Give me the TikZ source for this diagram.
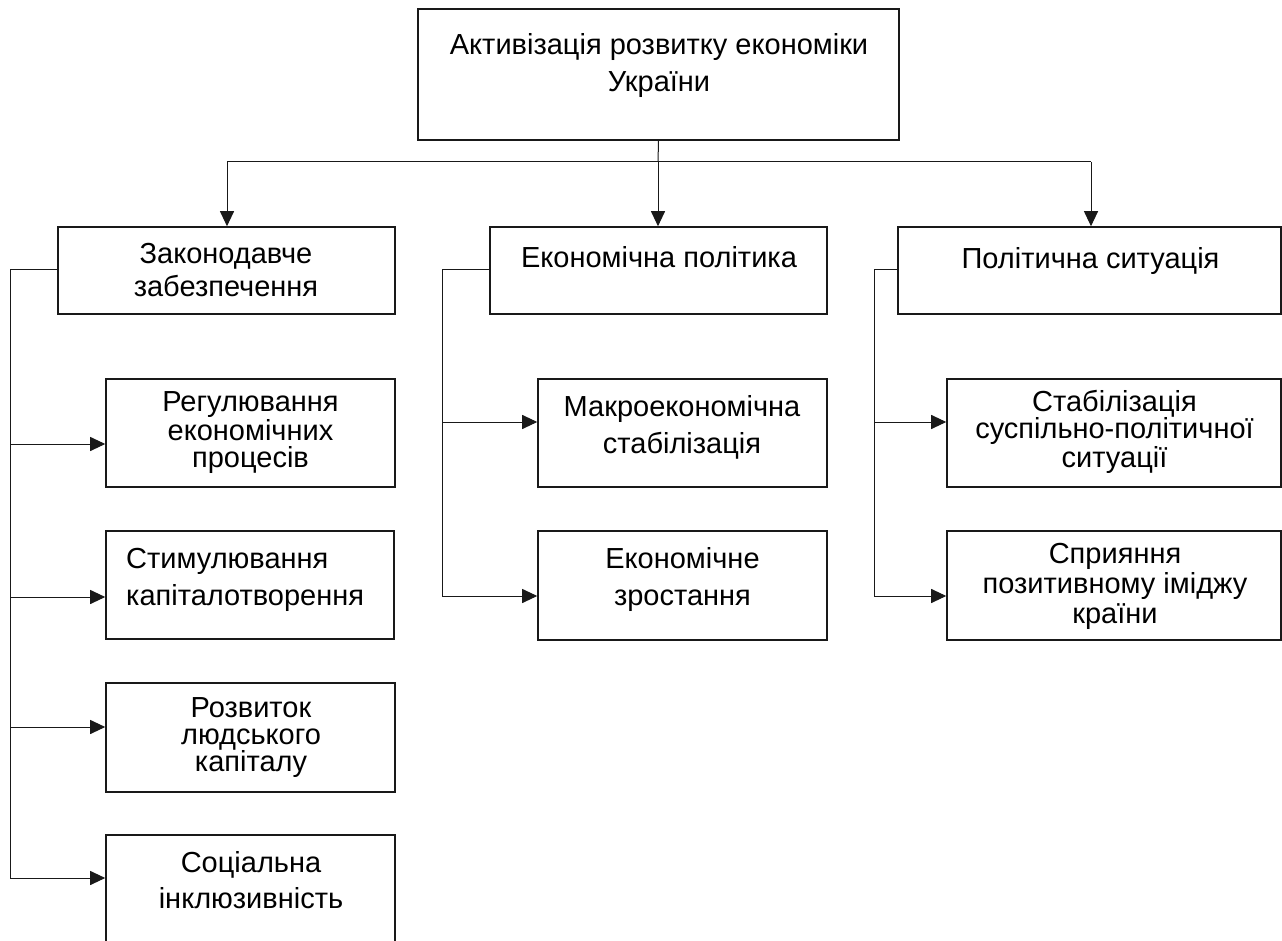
\documentclass[tikz,border=0pt]{standalone}
\usepackage{fontspec}
\setmainfont{Liberation Sans}
\usetikzlibrary{arrows.meta,calc}
\tikzset{
  box/.style={draw=black!90, line width=1.6pt, inner sep=0pt, rectangle},
  lbl/.style={anchor=base, align=center, inner sep=0pt, font=\fontsize{29}{#1}\selectfont},
  conn/.style={draw=black!90, line width=1pt},
  arr/.style={conn, -{Triangle[length=15pt,width=14pt]}}
}
\begin{document}
\begin{tikzpicture}[x=1pt,y=-1pt]
\useasboundingbox[fill=white] (0,0) rectangle (1282,941);
\clip (0,0) rectangle (1282,941);
% boxes
\node[box, minimum width=481pt, minimum height=131pt] (T) at (658.5,74.5) {};
\node[box, minimum width=337pt, minimum height=87pt] (Z) at (226.5,270.5) {};
\node[box, minimum width=337pt, minimum height=87pt] (E) at (658.5,270.5) {};
\node[box, minimum width=383pt, minimum height=87pt] (P) at (1089.5,270.5) {};
\node[box, minimum width=289pt, minimum height=108pt] (L1) at (250.5,433) {};
\node[box, minimum width=288pt, minimum height=108pt] (L2) at (250,585) {};
\node[box, minimum width=289pt, minimum height=109pt] (L3) at (250.5,737.5) {};
\node[box, minimum width=289pt, minimum height=115pt] (L4) at (250.5,892.5) {};
\node[box, minimum width=289pt, minimum height=108pt] (M1) at (682.5,433) {};
\node[box, minimum width=289pt, minimum height=109pt] (M2) at (682.5,585.5) {};
\node[box, minimum width=334pt, minimum height=108pt] (R1) at (1114,433) {};
\node[box, minimum width=334pt, minimum height=109pt] (R2) at (1114,585.5) {};
% texts (anchor at baseline of the last line)
\node[lbl=37] (tT) at (659,92) {Активізація розвитку економіки\\України};
\node[lbl=33] (tZ) at (226,297) {Законодавче\\забезпечення};
\node[lbl=30] (tE) at (659,268) {Економічна політика};
\node[lbl=30] (tP) at (1090.5,269) {Політична ситуація};
\node[lbl=27] (tL1) at (250.5,467) {Регулювання\\економічних\\процесів};
\node[lbl=37, align=left, anchor=base west] (tL2) at (126,605) {Стимулювання\\капіталотворення};
\node[lbl=27] (tL3) at (251,771) {Розвиток\\людського\\капіталу};
\node[lbl=36] (tL4) at (251,908) {Соціальна\\інклюзивність};
\node[lbl=37] (tM1) at (682,453) {Макроекономічна\\стабілізація};
\node[lbl=37] (tM2) at (682.5,605) {Економічне\\зростання};
\node[lbl=27] (tR1) at (1114.5,467) {Стабілізація\\суспільно-політичної\\ситуації};
\node[lbl=30] (tR2) at (1115,623) {Сприяння\\позитивному іміджу\\країни};
% top spine
\coordinate (hub) at (658,162);
\coordinate (hl) at (227,162);
\coordinate (hr) at (1091,162);
\draw[conn] (T.south) -- (hub);
\draw[conn] (hl) -- (hr);
\draw[arr] (hl) -- (hl |- Z.north);
\draw[arr] (hub) -- (hub |- E.north);
\draw[arr] (hr) -- (hr |- P.north);
% left bracket
\coordinate (zl) at (10,270);
\coordinate (za1) at (10,444);
\coordinate (za2) at (10,597);
\coordinate (za3) at (10,727);
\coordinate (za4) at (10,878);
\draw[conn] (Z.west |- zl) -- (zl) -- (za4);
\draw[arr] (za1) -- (za1 -| L1.west);
\draw[arr] (za2) -- (za2 -| L2.west);
\draw[arr] (za3) -- (za3 -| L3.west);
\draw[arr] (za4) -- (za4 -| L4.west);
% middle bracket
\coordinate (el) at (442,270);
\coordinate (ea1) at (442,422);
\coordinate (ea2) at (442,596);
\draw[conn] (E.west |- el) -- (el) -- (ea2);
\draw[arr] (ea1) -- (ea1 -| M1.west);
\draw[arr] (ea2) -- (ea2 -| M2.west);
% right bracket
\coordinate (pl) at (874,270);
\coordinate (pa1) at (874,422);
\coordinate (pa2) at (874,596);
\draw[conn] (P.west |- pl) -- (pl) -- (pa2);
\draw[arr] (pa1) -- (pa1 -| R1.west);
\draw[arr] (pa2) -- (pa2 -| R2.west);
\end{tikzpicture}
\end{document}
